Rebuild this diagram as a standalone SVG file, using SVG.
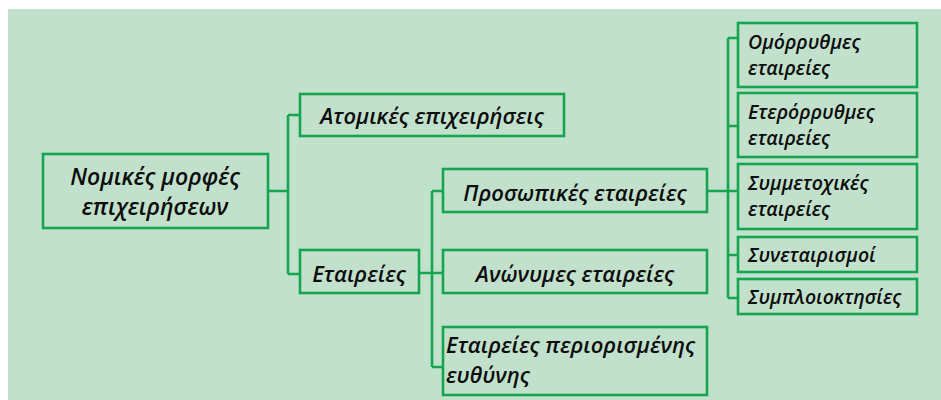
<svg xmlns="http://www.w3.org/2000/svg" width="941" height="400" viewBox="0 0 941 400">
<style>
.bx{fill:none;stroke:#14a550;stroke-width:2.6}
.cn{fill:none;stroke:#14a550;stroke-width:2.6}
.t{font-family:"Open Sans","Noto Sans",sans-serif;font-style:italic;font-weight:600;fill:#0d0d0d;font-size:22px}
.c{text-anchor:middle}
.s{font-size:19.5px}
.r{font-size:23px}
</style>
<rect x="0" y="0" width="941" height="400" fill="#ffffff"/>
<rect x="8" y="9" width="933" height="391" fill="#c2e1cc"/>
<g id="connectors">
<path class="cn" d="M268 191H288M288 115V274M288 115H300M288 274H300"/>
<path class="cn" d="M419 273H443M432 191V367M432 191H443M432 367H443"/>
<path class="cn" d="M707 191H738M728 38V298M728 38H738M728 126H738M728 255H738M728 298H738"/>
</g>
<g id="n-root">
<rect class="bx" x="43" y="154" width="225" height="74"/>
<text class="t c r" x="155" y="185">Νομικές μορφές</text>
<text class="t c r" x="155" y="215">επιχειρήσεων</text>
</g>
<g id="n-atomikes">
<rect class="bx" x="300" y="94" width="264" height="42"/>
<text class="t c" x="432" y="124">Ατομικές επιχειρήσεις</text>
</g>
<g id="n-etaireies">
<rect class="bx" x="300" y="250" width="119" height="43"/>
<text class="t c" x="359" y="282">Εταιρείες</text>
</g>
<g id="n-prosopikes">
<rect class="bx" x="443" y="169" width="264" height="43"/>
<text class="t c" x="575" y="201">Προσωπικές εταιρείες</text>
</g>
<g id="n-anonymes">
<rect class="bx" x="443" y="250" width="264" height="43"/>
<text class="t c" x="575" y="282">Ανώνυμες εταιρείες</text>
</g>
<g id="n-epe">
<rect class="bx" x="443" y="327" width="264" height="68"/>
<text class="t" x="446" y="353">Εταιρείες περιορισμένης</text>
<text class="t" x="446" y="383">ευθύνης</text>
</g>
<g id="n-omorrythmes">
<rect class="bx" x="738" y="23" width="179" height="64"/>
<text class="t s" x="748" y="49">Ομόρρυθμες</text>
<text class="t s" x="748" y="75">εταιρείες</text>
</g>
<g id="n-eterorrythmes">
<rect class="bx" x="738" y="93" width="179" height="64"/>
<text class="t s" x="748" y="119">Ετερόρρυθμες</text>
<text class="t s" x="748" y="145">εταιρείες</text>
</g>
<g id="n-symmetoxikes">
<rect class="bx" x="738" y="164" width="179" height="65"/>
<text class="t s" x="748" y="190">Συμμετοχικές</text>
<text class="t s" x="748" y="216">εταιρείες</text>
</g>
<g id="n-synetairismoi">
<rect class="bx" x="738" y="237" width="179" height="35"/>
<text class="t s" x="748" y="262">Συνεταιρισμοί</text>
</g>
<g id="n-symploioktisies">
<rect class="bx" x="738" y="279" width="179" height="35"/>
<text class="t s" x="748" y="304">Συμπλοιοκτησίες</text>
</g>
</svg>
